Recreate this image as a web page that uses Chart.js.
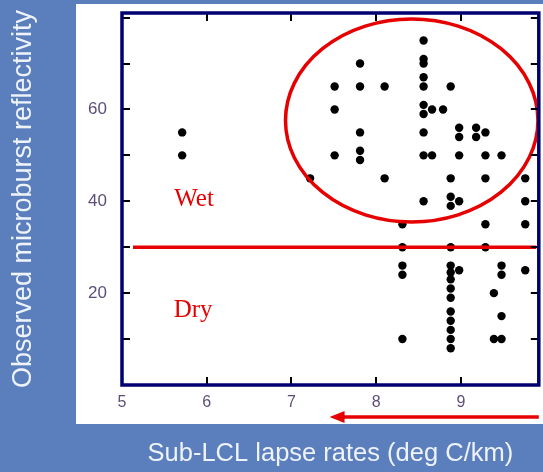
<!DOCTYPE html>
<html><head><meta charset="utf-8">
<script src="https://cdn.jsdelivr.net/npm/chart.js@4"></script>
<style>html,body{margin:0;padding:0;background:#5b7fbc;}#wrap{width:543px;height:472px;}</style>
</head><body><div id="wrap"><canvas id="c" width="543" height="472"></canvas></div>
<script>
// Sub-LCL lapse rate (deg C/km) of each observed microburst
const lapseRates = [
  5.71, 5.71,
  7.22,
  7.51, 7.51, 7.51,
  7.81, 7.81, 7.81, 7.81, 7.81,
  8.10, 8.10,
  8.31, 8.31, 8.31, 8.31, 8.31,
  8.56, 8.56, 8.56, 8.56, 8.56, 8.56, 8.56, 8.56, 8.56, 8.56,
  8.66, 8.66,
  8.79,
  8.88, 8.88, 8.88, 8.88, 8.88, 8.88, 8.88, 8.88, 8.88, 8.88, 8.88, 8.88, 8.88, 8.88, 8.88,
  8.98, 8.98, 8.98, 8.98, 8.98,
  9.18, 9.18,
  9.29, 9.29, 9.29, 9.29, 9.29,
  9.39, 9.39,
  9.48, 9.48, 9.48, 9.48, 9.48,
  9.76, 9.76, 9.76, 9.76
];
// Observed microburst reflectivity (dBZ)
const reflectivity = [
  55, 50,
  45,
  65, 60, 50,
  70, 65, 55, 51, 49,
  65, 45,
  35, 30, 26, 24, 10,
  75, 71, 70, 67, 65, 61, 59, 55, 50, 40,
  60, 50,
  60,
  65, 45, 41, 39, 30, 26, 24.5, 23, 21, 19, 16, 14, 12, 10, 8,
  56, 54, 50, 40, 25,
  56, 54,
  55, 50, 45, 35, 30,
  20, 10,
  50, 26, 24, 15, 10,
  45, 40, 35, 25
];
const xTickValues = [5, 6, 7, 8, 9];
const yLabelValues = [20, 40, 60];
const xRange = [5, 9.92];
const yRange = [0, 81];
const wetDryThreshold = 30;
const thresholdSpan = [5.13, 9.89];
const wetEllipse = [8.42, 57.6, 1.49, 22.1]; // centre x, centre y, half-width, half-height (data units)
const arrowSpan = [9.92, 7.45];
const zoneLabels = ['Wet', 'Dry'];
const zoneLabelPos = [[5.85, 40.4], [5.84, 16.3]];

const points = lapseRates.map((x, i) => ({x: x, y: reflectivity[i]}));
const RED = '#e60000';
const NAVY = '#000070';
const TICKCOL = '#5e4e76';

const decor = {
  id: 'decor',
  beforeDraw(chart) {
    const {ctx, chartArea: a} = chart;
    ctx.save();
    ctx.fillStyle = '#5b7fbc';
    ctx.fillRect(0, 0, chart.width, chart.height);
    ctx.fillStyle = '#ffffff';
    ctx.fillRect(a.left - 46, a.top - 9, chart.width - (a.left - 46), a.bottom + 39 - (a.top - 9));
    ctx.restore();
  },
  afterDatasetsDraw(chart) {
    const {ctx, chartArea: a, scales: {x, y}} = chart;
    ctx.save();
    // ellipse
    const cx = x.getPixelForValue(wetEllipse[0]);
    const cy = y.getPixelForValue(wetEllipse[1]);
    const rx = x.getPixelForValue(wetEllipse[0] + wetEllipse[2]) - cx;
    const ry = cy - y.getPixelForValue(wetEllipse[1] + wetEllipse[3]);
    ctx.strokeStyle = RED;
    ctx.lineWidth = 3.5;
    ctx.beginPath();
    ctx.ellipse(cx, cy, rx, ry, 0, 0, Math.PI * 2);
    ctx.stroke();
    // zone labels
    ctx.fillStyle = RED;
    ctx.font = '25px "Liberation Serif", "Times New Roman", serif';
    ctx.textAlign = 'center';
    ctx.textBaseline = 'middle';
    zoneLabels.forEach((t, i) => {
      ctx.fillText(t, x.getPixelForValue(zoneLabelPos[i][0]), y.getPixelForValue(zoneLabelPos[i][1]));
    });
    // inward ticks
    ctx.strokeStyle = '#000000';
    ctx.lineWidth = 2;
    ctx.beginPath();
    y.ticks.forEach(t => {
      if (t.value <= yRange[0] || t.value >= yRange[1]) return;
      const py = Math.round(y.getPixelForValue(t.value));
      ctx.moveTo(a.left, py); ctx.lineTo(a.left + 8, py);
      ctx.moveTo(a.right, py); ctx.lineTo(a.right - 8, py);
    });
    x.ticks.forEach(t => {
      if (t.value <= xRange[0] || t.value >= xRange[1]) return;
      const px = Math.round(x.getPixelForValue(t.value));
      ctx.moveTo(px, a.bottom); ctx.lineTo(px, a.bottom - 8);
      ctx.moveTo(px, a.top); ctx.lineTo(px, a.top + 8);
    });
    ctx.stroke();
    // frame
    ctx.strokeStyle = NAVY;
    ctx.lineWidth = 3.5;
    ctx.strokeRect(a.left, a.top, a.right - a.left, a.bottom - a.top);
    // arrow
    const ay = a.bottom + 32;
    const x0 = x.getPixelForValue(arrowSpan[0]);
    const x1 = x.getPixelForValue(arrowSpan[1]);
    ctx.strokeStyle = RED;
    ctx.fillStyle = RED;
    ctx.lineWidth = 3.5;
    ctx.beginPath();
    ctx.moveTo(x0, ay); ctx.lineTo(x1 + 12, ay);
    ctx.stroke();
    ctx.beginPath();
    ctx.moveTo(x1, ay); ctx.lineTo(x1 + 15, ay - 6); ctx.lineTo(x1 + 15, ay + 6); ctx.closePath();
    ctx.fill();
    ctx.restore();
  }
};

new Chart(document.getElementById('c'), {
  type: 'scatter',
  data: {
    datasets: [
      {
        label: 'Microbursts',
        data: points,
        pointRadius: 4.2,
        pointHoverRadius: 4.2,
        pointBackgroundColor: '#000000',
        pointBorderWidth: 0,
        order: 1
      },
      {
        type: 'line',
        label: 'Wet/Dry threshold',
        data: thresholdSpan.map(v => ({x: v, y: wetDryThreshold})),
        borderColor: RED,
        borderWidth: 3.5,
        pointRadius: 0,
        fill: false,
        order: 0
      }
    ]
  },
  plugins: [decor],
  options: {
    responsive: false,
    animation: false,
    events: [],
    layout: {padding: {left: 0, top: 13, right: 3, bottom: 0}},
    plugins: {legend: {display: false}, tooltip: {enabled: false}},
    scales: {
      x: {
        type: 'linear',
        min: xRange[0], max: xRange[1],
        afterBuildTicks: s => { s.ticks = xTickValues.map(v => ({value: v})); },
        afterFit: s => { s.height = 87; s.paddingLeft = 0; s.paddingRight = 0; },
        grid: {display: false, drawTicks: false},
        border: {display: false},
        ticks: {
          color: TICKCOL, padding: 8, maxRotation: 0,
          font: {family: '"Liberation Sans Narrow", "Liberation Sans", Arial', size: 16}
        },
        title: {
          display: true, text: 'Sub-LCL lapse rates (deg C/km)', color: '#eef2f9',
          font: {family: '"Liberation Sans", Arial, sans-serif', size: 25.5},
          padding: {top: 0, bottom: 3}
        }
      },
      y: {
        type: 'linear',
        min: yRange[0], max: yRange[1],
        afterBuildTicks: s => {
          const t = [];
          for (let v = 10; v < yRange[1]; v += 10) t.push({value: v});
          s.ticks = t;
        },
        afterFit: s => { s.width = 122; s.paddingTop = 0; s.paddingBottom = 0; },
        grid: {display: false, drawTicks: false},
        border: {display: false},
        ticks: {
          color: TICKCOL, padding: 15,
          font: {family: '"Liberation Sans Narrow", "Liberation Sans", Arial', size: 17},
          callback: v => yLabelValues.includes(v) ? String(v) : ''
        },
        title: {
          display: true, text: 'Observed microburst reflectivity', color: '#eef2f9',
          font: {family: '"Liberation Sans", Arial, sans-serif', size: 27},
          padding: {top: 7, bottom: 0}
        }
      }
    }
  }
});
</script></body></html>
